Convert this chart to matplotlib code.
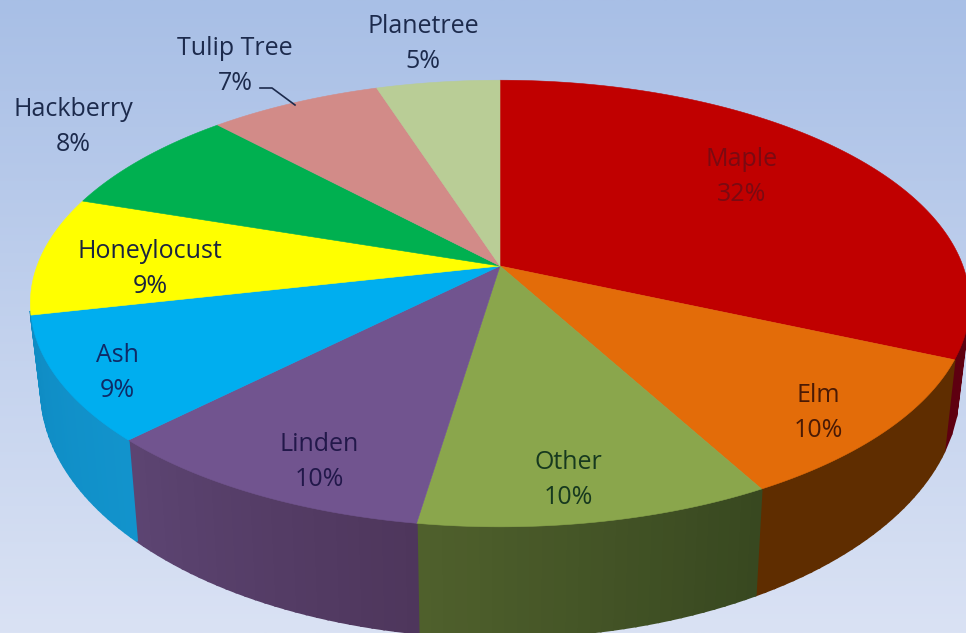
import numpy as np
import matplotlib
matplotlib.use("Agg")
import matplotlib.pyplot as plt
from matplotlib.colors import to_rgb

plt.rcParams['font.family'] = ['Open Sans', 'DejaVu Sans']

# clockwise from 12 o'clock, labels show them rounded
names = ['Maple', 'Elm', 'Other', 'Linden', 'Ash', 'Honeylocust', 'Hackberry', 'Tulip Tree', 'Planetree']
shares = [31.6, 10.4, 10.4, 10.1, 9.0, 8.6, 7.9, 7.0, 5.0]
top_colors = ['#c00000', '#e36c09', '#8aa64c', '#71548f', '#00aeef', '#ffff00', '#00b050', '#d28b88', '#b9cd96']
side_left = ['#5e0010', '#5f2d00', '#4f602c', '#5c4472', '#0f8cc4', '#0f8cc4', '#00803a', '#9a6563', '#8a9a70']
side_right = ['#7a0012', '#5f2d00', '#384820', '#4e365c', '#1293cc', '#0f8cc4', '#00803a', '#9a6563', '#8a9a70']
text_colors = ['#7a0a12', '#4a1a05', '#17391f', '#22184a', '#0f2a66', '#1a2340', '#1c2a4c', '#1c2a4c', '#1c2a4c']
label_pos = [(742, 177), (818, 413), (568, 480), (319, 462), (117, 373), (150, 269), (73, 127), (235, 66), (423, 44)]

# pie plane -> picture, a plain perspective tilt
CX, CY = 500, 266
RX, RY = 463, 217
TILT = 0.168


def project(angle):
    x = np.sin(angle)
    y = np.cos(angle)
    d = 1 + TILT * y
    return CX + RX * x / d, CY - RY * y / d


def lower(px, py):
    # same rim on the underside of the disc
    return CX + (px - CX) * 0.977, py + 92 + 0.11 * (py - 358)


fig = plt.figure(figsize=(9.66, 6.33), dpi=100)
ax = fig.add_axes([0, 0, 1, 1])
ax.set_xlim(0, 966)
ax.set_ylim(633, 0)
ax.axis('off')

grad = np.linspace(0, 1, 256)[:, None, None]
c1 = np.array(to_rgb('#a8bfe6'))
c2 = np.array(to_rgb('#dae2f4'))
ax.imshow(c1 + (c2 - c1) * grad, extent=(0, 966, 633, 0), aspect='auto', zorder=0)

edges = np.radians(np.cumsum([0] + shares) * 3.6)

# outer wall first, the back of the rim is hidden anyway
for i in range(len(names)):
    ang = np.linspace(edges[i], edges[i + 1], 30)
    a = np.array(to_rgb(side_left[i]))
    b = np.array(to_rgb(side_right[i]))
    for j in range(len(ang) - 1):
        x0, y0 = project(ang[j])
        x1, y1 = project(ang[j + 1])
        if y0 < 310 or y1 < 310:
            continue
        x2, y2 = lower(x1, y1)
        x3, y3 = lower(x0, y0)
        f = 1 - j / (len(ang) - 2)
        col = a + (b - a) * f
        ax.fill([x0, x1, x2, x3], [y0, y1, y2, y3], color=col, lw=1.5, zorder=1)

# top face
for i in range(len(names)):
    ang = np.linspace(edges[i], edges[i + 1], 120)
    px, py = project(ang)
    ax.fill(np.r_[CX, px], np.r_[CY, py], color=top_colors[i], lw=0.4, zorder=2)

# labels
for i in range(len(names)):
    ax.text(label_pos[i][0], label_pos[i][1], "%s\n%.0f%%" % (names[i], shares[i]), ha='center', va='center',
            fontsize=18, color=text_colors[i], linespacing=1.5, zorder=4)

# leader line for Tulip Tree
ax.plot([260, 272, 295], [88, 88, 105], color='#1c2a4c', lw=1.2, zorder=3)

fig.savefig('out.png', dpi=100)
